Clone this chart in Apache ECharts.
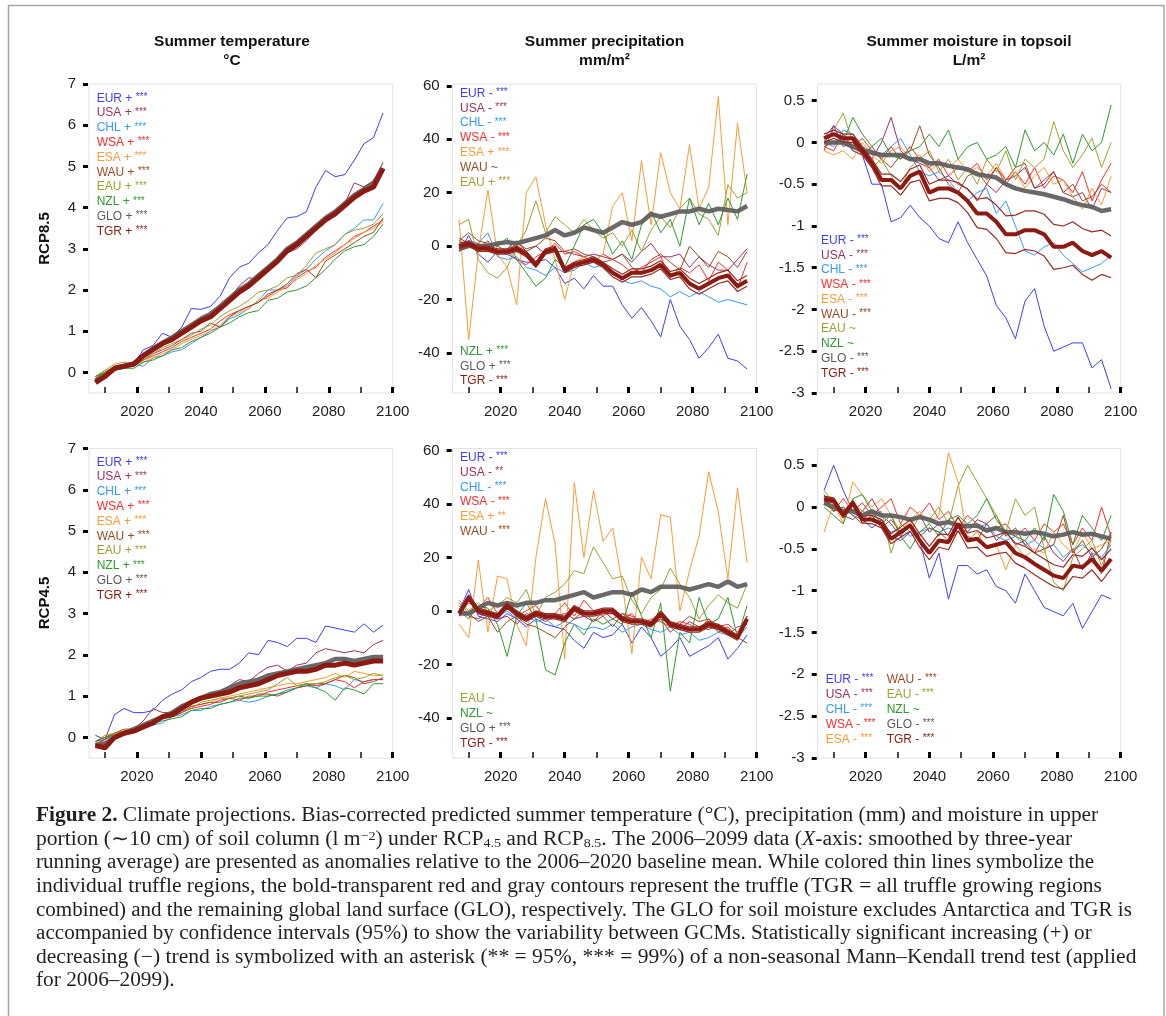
<!DOCTYPE html>
<html>
<head>
<meta charset="utf-8">
<script src="https://cdn.jsdelivr.net/npm/echarts@6/dist/echarts.min.js"></script>
<style>
  html, body { margin: 0; padding: 0; background: #fff; }
  #chart { width: 1166px; height: 1016px; }
</style>
</head>
<body>
<div id="chart"></div>
<script>
var YEARS = [2007,2010,2013,2016,2019,2022,2025,2028,2031,2034,2037,2040,2043,2046,2049,2052,2055,2058,2061,2064,2067,2070,2073,2076,2079,2082,2085,2088,2091,2094,2097];
var X_MINOR = [2010,2030,2050,2070,2090];
var X_MAJOR = [2020,2040,2060,2080,2100];
var TICKS_T = [0,1,2,3,4,5,6,7];
var TICKS_P = [-40,-20,0,20,40,60];
var TICKS_M = [-3,-2.5,-2,-1.5,-1,-0.5,0,0.5];
var REGIONS = ['EUR','USA','CHL','WSA','ESA','WAU','EAU','NZL'];
var TITLES = [['Summer temperature','°C'],['Summer precipitation','mm/m²'],['Summer moisture in topsoil','L/m²']];
var ROWS = ['RCP8.5','RCP4.5'];

// summer temperature, RCP8.5
var T85_EUR = [-0.2,-0.05,0.1,0.2,0.2,0.55,0.65,0.95,0.85,1.1,1.55,1.53,1.6,1.85,2.3,2.55,2.65,2.9,3.1,3.45,3.75,3.78,3.9,4.5,4.9,4.75,4.8,5.15,5.55,5.7,6.3];
var T85_USA = [-0.2,-0.05,0.1,0.2,0.15,0.4,0.55,0.65,0.8,0.9,1.1,1.2,1.35,1.5,1.8,2.1,2.3,2.25,2.45,2.7,2.9,3.0,3.2,3.45,3.65,3.85,4.1,4.6,4.5,4.65,5.1];
var T85_CHL = [-0.1,0.0,0.05,0.15,0.2,0.15,0.35,0.4,0.5,0.55,0.7,0.85,1.0,1.1,1.3,1.4,1.55,1.75,2.0,2.0,2.1,2.35,2.5,2.75,2.95,3.1,3.35,3.5,3.7,3.7,4.1];
var T85_WSA = [-0.15,0.0,0.1,0.2,0.15,0.3,0.4,0.5,0.6,0.75,0.85,0.95,1.05,1.25,1.4,1.5,1.6,1.7,1.85,2.0,2.05,2.3,2.45,2.55,2.8,2.95,3.1,3.3,3.4,3.55,3.7];
var T85_ESA = [-0.1,0.05,0.1,0.2,0.2,0.25,0.35,0.45,0.55,0.7,0.8,0.9,1.0,1.15,1.35,1.45,1.55,1.75,1.8,1.95,2.1,2.25,2.4,2.6,2.75,2.9,3.1,3.25,3.4,3.5,3.65];
var T85_WAU = [-0.15,0.0,0.15,0.2,0.15,0.3,0.45,0.55,0.65,0.8,0.95,1.0,1.2,1.1,1.35,1.5,1.6,1.7,1.9,2.0,2.15,2.4,2.5,2.3,2.7,2.85,3.0,3.15,3.3,3.4,3.75];
var T85_EAU = [-0.1,0.05,0.2,0.25,0.2,0.3,0.45,0.6,0.7,0.8,0.9,1.05,1.15,1.35,1.5,1.6,1.75,1.95,2.0,2.1,2.3,2.35,2.6,2.9,3.0,3.1,3.35,3.45,3.5,3.6,3.85];
var T85_NZL = [-0.1,0.0,0.05,0.1,0.1,0.25,0.3,0.4,0.55,0.6,0.75,0.85,0.95,1.1,1.2,1.35,1.45,1.5,1.75,1.8,1.95,2.0,2.1,2.3,2.5,2.75,2.95,3.05,3.1,3.3,3.6];
var T85_GLO = [-0.2,-0.08,0.1,0.15,0.22,0.42,0.58,0.72,0.85,1.0,1.15,1.3,1.42,1.6,1.8,2.0,2.15,2.35,2.55,2.75,3.0,3.15,3.35,3.55,3.75,3.9,4.1,4.3,4.45,4.6,4.95];
var T85_TGR = [-0.25,-0.1,0.1,0.15,0.2,0.4,0.55,0.7,0.8,0.95,1.1,1.25,1.35,1.55,1.75,1.95,2.1,2.3,2.5,2.7,2.95,3.1,3.3,3.5,3.7,3.85,4.05,4.25,4.4,4.5,4.95];

// summer temperature, RCP4.5
var T45_EUR = [0.05,-0.05,0.55,0.7,0.6,0.6,0.65,0.9,1.05,1.15,1.35,1.45,1.6,1.65,1.65,1.8,2.05,2.0,2.35,2.3,2.2,2.4,2.4,2.3,2.7,2.65,2.6,2.55,2.75,2.55,2.72];
var T45_USA = [-0.2,-0.05,0.1,0.15,0.2,0.4,0.7,0.6,0.6,0.75,0.85,0.95,1.05,1.1,1.25,1.4,1.35,1.55,1.7,1.75,1.6,1.75,1.8,2.05,2.15,2.1,2.05,2.1,2.05,2.25,2.35];
var T45_CHL = [-0.1,-0.05,0.05,0.15,0.2,0.25,0.3,0.35,0.5,0.55,0.65,0.65,0.75,0.8,0.85,0.9,0.85,0.9,1.0,1.05,1.15,1.2,1.25,1.2,1.3,1.25,1.15,1.4,1.35,1.4,1.4];
var T45_WSA = [-0.15,-0.05,0.1,0.15,0.2,0.3,0.35,0.45,0.5,0.6,0.7,0.75,0.8,0.9,0.95,0.9,1.0,1.0,1.1,1.15,1.2,1.25,1.3,1.25,1.3,1.4,1.35,1.2,1.35,1.4,1.4];
var T45_ESA = [-0.1,0.0,0.1,0.15,0.2,0.3,0.4,0.45,0.55,0.6,0.75,0.8,0.85,0.95,1.0,1.05,1.1,1.15,1.2,1.25,1.3,1.3,1.35,1.4,1.45,1.55,1.45,1.6,1.55,1.5,1.5];
var T45_WAU = [-0.1,0.0,0.1,0.2,0.2,0.3,0.35,0.5,0.5,0.6,0.75,0.8,0.85,0.85,0.95,1.0,0.95,1.05,1.05,1.0,1.1,1.2,1.25,1.3,1.3,1.4,1.5,1.45,1.3,1.35,1.45];
var T45_EAU = [-0.1,0.05,0.1,0.15,0.2,0.3,0.4,0.45,0.55,0.65,0.7,0.85,0.9,0.95,0.95,1.0,1.05,1.1,1.15,1.3,1.45,1.25,1.3,1.3,1.35,1.45,1.5,1.4,1.45,1.55,1.5];
var T45_NZL = [-0.1,0.0,0.05,0.15,0.15,0.25,0.35,0.4,0.45,0.5,0.65,0.7,0.7,0.8,0.85,0.95,0.95,1.0,1.0,1.05,1.1,1.2,1.3,1.2,1.1,0.9,1.2,1.15,1.05,1.3,1.3];
var T45_GLO = [-0.2,-0.15,0.0,0.1,0.2,0.3,0.4,0.5,0.6,0.75,0.85,0.95,1.05,1.1,1.2,1.3,1.35,1.4,1.5,1.55,1.6,1.65,1.7,1.75,1.8,1.9,1.9,1.85,1.9,1.95,1.95];
var T45_TGR = [-0.2,-0.25,0.0,0.1,0.15,0.25,0.35,0.5,0.55,0.7,0.85,0.95,1.0,1.05,1.1,1.2,1.25,1.3,1.4,1.5,1.55,1.6,1.6,1.65,1.75,1.75,1.8,1.75,1.8,1.85,1.85];

// summer precipitation, RCP8.5
var P85_EUR = [-2,4,-3,-6,-2,-3,-5,-6,-6,-5,-8,-14,-12,-16,-11,-15,-15,-22,-27,-23,-28,-34,-20,-30,-35,-42,-38,-33,-42,-43,-46];
var P85_USA = [3,1,-1,2,-3,-1,2,-2,0,-3,-2,-2,-3,-4,-3,-4,-5,-3,-6,-2,1,-4,-4,-3,-8,-4,-7,-9,-9,-5,-1];
var P85_CHL = [0,2,1,5,-4,-5,-4,-8,-9,-11,-8,-10,-9,-6,-8,-7,-10,-13,-14,-13,-15,-16,-19,-17,-19,-17,-19,-21,-20,-21,-22];
var P85_WSA = [-2,0,1,-1,-3,-2,-5,-7,-4,-2,1,-3,-2,-4,-6,-3,-5,-7,-10,-8,-6,-4,-12,-8,-10,-7,-13,-6,-9,-16,-6];
var P85_ESA = [10,-35,-2,21,-3,-8,-22,20,26,8,-5,-20,-6,-4,-6,-3,15,20,2,32,8,35,20,14,38,14,22,56,8,46,20];
var P85_WAU = [2,5,2,1,0,-2,1,-1,0,3,2,-2,-1,-3,-4,-6,-5,-3,-8,-10,-5,-3,-6,-9,0,-4,-8,-2,-4,-8,-2];
var P85_EAU = [8,10,-5,-10,-12,-8,0,6,17,5,11,8,5,10,6,3,5,0,6,-2,6,11,7,14,18,12,10,4,23,18,20];
var P85_NZL = [2,0,-2,1,0,3,-5,-10,-15,-12,-5,-8,0,8,10,5,-3,2,-5,8,13,5,10,0,18,8,16,8,18,10,27];
var P85_GLO = [-1,0,0,0,1,1.5,1,2,3,4,6,4,5,7,6,5,7,9,8,9,12,11,12,13,13,14,13,14,13.5,13,15];
var P85_TGR = [0,1,-1,-1,-2,-2,-1,-3,-7,-2,-1,-9,-7,-6,-5,-7,-10,-12,-10,-10,-9,-7,-11,-10,-14,-16,-14,-12,-11,-15,-13];
var P85_TGR_HI = [1,2,0,0,-1,-1,0,-2,-6,-1,0,-8,-6,-5,-4,-6,-8.5,-10.5,-8.5,-8.5,-7.5,-5.5,-9.5,-8.5,-12,-14,-12,-10,-9,-13,-11];
var P85_TGR_LO = [-1,0,-2,-2,-3,-3,-2,-4,-8,-3,-2,-10,-8,-7,-6,-8,-11.5,-13.5,-11.5,-11.5,-10.5,-8.5,-12.5,-11.5,-16,-18,-16,-14,-13,-17,-15];

// summer precipitation, RCP4.5
var P45_EUR = [0,8,-2,-3,-4,-1,-3,-6,-3,-5,-6,-7,-11,-14,-8,-10,-9,-5,-12,-6,-10,-17,-14,-10,-17,-15,-13,-10,-18,-14,-9];
var P45_USA = [2,-2,-3,0,-3,-2,-5,-1,-2,-4,-2,-1,-3,-2,-4,0,-3,-1,-2,-4,-6,-3,-5,-7,-4,-6,-7,-5,-9,-6,-5];
var P45_CHL = [0,4,-1,-2,-2,0,-3,-2,-4,-3,-6,-4,-5,-7,-6,-7,-5,-8,-6,-5,-7,-8,-6,-9,-8,-11,-10,-8,-9,-10,-6];
var P45_WSA = [-1,3,1,5,-1,2,-2,0,2,-3,-1,3,-2,4,0,-2,1,-3,-1,-5,-3,-4,-6,-4,-5,-7,-3,-6,-5,-8,-2];
var P45_ESA = [-5,-10,19,-8,13,12,-5,-13,20,42,25,-18,48,20,45,26,31,10,-16,20,12,36,35,0,15,28,52,37,12,46,18];
var P45_WAU = [3,-1,-4,-2,-8,-4,-2,-5,-6,-8,-10,-6,-3,0,-4,-2,-6,-1,-3,-4,-5,-3,-8,-5,-2,-4,-3,-8,-6,-10,-12];
var P45_EAU = [4,0,3,0,2,5,3,8,-2,5,7,10,15,14,24,18,12,13,4,-1,5,8,16,10,5,-3,2,6,3,1,10];
var P45_NZL = [0,-3,2,1,-5,-17,-2,3,-3,-22,-24,-12,-5,-9,-3,-5,-3,-5,7,-2,-10,3,-30,-8,-12,5,-5,-3,5,-10,2];
var P45_GLO = [-1,-1,1,3,2,3,2,3,3,4,4,5,6,7,5,6,7,7,6,8,7,9,9,9,8,9,10,9,11,9,10];
var P45_TGR = [-1,5,0,-1,-2,2,-1,-3,-1,-2,-2,-3,1,-1,-1,0,0,-3,-4,-4,-5,-1,-5,-6,-7,-7,-5,-6,-8,-10,-3];
var P45_TGR_HI = [0,6,1,0,-1,3,0,-2,0,-1,-1,-2,2,0,0,1,1,-2,-3,-3,-4,0,-4,-5,-6,-6,-4,-5,-7,-9,-2];
var P45_TGR_LO = [-2,4,-1,-2,-3,1,-2,-4,-2,-3,-3,-4,0,-2,-2,-1,-1,-4,-5,-5,-6,-2,-6,-7,-8,-8,-6,-7,-9,-11,-4];

// summer moisture in topsoil, RCP8.5
var M85_EUR = [0.05,0.2,0.1,-0.1,-0.15,-0.5,-0.5,-0.95,-0.9,-0.75,-0.9,-1.0,-1.15,-1.2,-0.95,-1.2,-1.4,-1.6,-1.95,-2.1,-2.35,-1.9,-1.75,-2.2,-2.5,-2.45,-2.4,-2.4,-2.7,-2.6,-2.95];
var M85_USA = [-0.1,0.2,-0.05,0.0,-0.1,-0.2,0.0,0.3,-0.1,-0.2,-0.25,-0.3,-0.45,-0.4,-0.5,-0.55,-0.7,-0.5,-0.6,-0.45,-0.4,-0.3,-0.55,-0.5,-0.35,-0.6,-0.65,-0.6,-0.8,-0.55,-0.6];
var M85_CHL = [0.0,-0.05,0.15,0.1,-0.05,-0.1,-0.15,-0.05,0.05,-0.15,-0.35,-0.4,-0.35,-0.45,-0.6,-0.7,-0.6,-0.55,-0.85,-0.7,-1.0,-1.3,-1.35,-1.25,-1.2,-1.35,-1.45,-1.55,-1.5,-1.45,-1.35];
var M85_WSA = [-0.05,-0.1,0.1,-0.05,0.05,-0.1,-0.2,-0.05,-0.2,-0.05,-0.2,-0.3,-0.2,-0.4,-0.3,-0.35,-0.25,-0.45,-0.3,-0.5,-0.35,-0.5,-0.3,-0.55,-0.4,-0.45,-0.6,-0.35,-0.7,-0.45,-0.25];
var M85_ESA = [-0.1,-0.15,-0.1,-0.2,0.0,-0.15,-0.25,-0.1,-0.05,-0.2,-0.15,-0.35,-0.25,-0.3,-0.2,-0.35,-0.3,-0.4,-0.25,-0.45,-0.35,-0.55,-0.4,-0.3,-0.5,-0.45,-0.65,-0.8,-0.55,-0.75,-0.4];
var M85_WAU = [-0.05,0.0,0.05,-0.1,-0.15,-0.05,-0.2,-0.3,-0.15,-0.1,0.2,-0.15,-0.3,-0.5,-0.6,-0.4,-0.35,-0.5,-0.3,-0.45,-0.3,-0.25,-0.55,-0.45,-0.35,-0.6,-0.5,-0.7,-0.65,-0.5,-0.6];
var M85_EAU = [0.0,0.15,0.35,0.0,-0.1,-0.3,-0.2,-0.4,-0.55,-0.3,-0.2,-0.1,-0.35,-0.2,-0.45,-0.3,-0.5,-0.2,-0.35,-0.1,-0.45,-0.2,-0.3,-0.2,0.25,-0.1,-0.3,-0.15,0.05,-0.3,0.0];
var M85_NZL = [0.05,0.1,0.0,0.3,0.1,-0.05,0.05,-0.15,-0.2,-0.1,-0.05,0.1,-0.05,0.15,-0.2,-0.05,0.0,-0.2,-0.15,-0.05,-0.3,0.15,-0.1,0.0,-0.15,0.1,-0.25,0.1,-0.1,0.0,0.45];
var M85_GLO = [0.0,0.0,0.0,-0.05,-0.1,-0.12,-0.15,-0.15,-0.15,-0.2,-0.2,-0.25,-0.25,-0.28,-0.3,-0.32,-0.38,-0.4,-0.42,-0.5,-0.55,-0.58,-0.6,-0.62,-0.65,-0.68,-0.72,-0.75,-0.77,-0.82,-0.8];
var M85_TGR = [0.05,0.1,0.05,0.05,-0.1,-0.25,-0.45,-0.45,-0.55,-0.4,-0.35,-0.6,-0.55,-0.55,-0.6,-0.7,-0.85,-0.85,-0.95,-1.1,-1.1,-1.05,-1.05,-1.1,-1.25,-1.25,-1.2,-1.3,-1.35,-1.3,-1.38];
var M85_TGR_HI = [0.1,0.15,0.1,0.1,-0.05,-0.2,-0.38,-0.38,-0.47,-0.32,-0.27,-0.5,-0.45,-0.45,-0.48,-0.56,-0.68,-0.66,-0.75,-0.88,-0.87,-0.82,-0.82,-0.86,-0.98,-1.0,-0.95,-1.03,-1.07,-1.05,-1.12];
var M85_TGR_LO = [0.0,0.05,0.0,0.0,-0.15,-0.3,-0.52,-0.52,-0.63,-0.48,-0.45,-0.7,-0.67,-0.67,-0.72,-0.84,-1.02,-1.04,-1.15,-1.32,-1.33,-1.28,-1.3,-1.36,-1.52,-1.5,-1.47,-1.58,-1.65,-1.58,-1.62];

// summer moisture in topsoil, RCP4.5
var M45_EUR = [0.2,0.5,0.2,-0.05,-0.15,-0.25,-0.15,-0.35,-0.4,-0.3,-0.4,-0.85,-0.55,-1.1,-0.7,-0.7,-0.8,-0.75,-0.95,-1.0,-1.15,-0.8,-1.0,-1.2,-1.25,-1.3,-1.15,-1.45,-1.25,-1.05,-1.1];
var M45_USA = [0.1,0.05,-0.1,-0.15,-0.05,0.1,-0.1,-0.2,-0.35,-0.2,-0.1,-0.3,-0.2,-0.35,-0.25,-0.3,-0.15,-0.2,-0.4,-0.3,-0.45,-0.4,-0.55,-0.35,-0.55,-0.65,-0.5,-0.75,-0.55,-0.8,-0.3];
var M45_CHL = [0.1,-0.05,0.0,-0.1,-0.15,-0.05,-0.2,-0.3,-0.25,-0.35,-0.3,-0.25,-0.3,-0.25,-0.3,-0.2,-0.25,-0.2,-0.35,-0.4,-0.35,-0.45,-0.4,-0.5,-0.45,-0.6,-0.5,-0.45,-0.55,-0.6,-0.45];
var M45_WSA = [0.05,-0.05,0.1,-0.05,0.05,-0.1,0.0,0.1,-0.2,0.0,-0.1,0.05,-0.15,-0.05,-0.25,-0.1,-0.2,-0.3,-0.25,-0.2,-0.35,-0.25,-0.4,-0.2,-0.3,-0.2,-0.45,-0.25,-0.4,0.0,-0.35];
var M45_ESA = [-0.3,0.05,-0.2,0.3,0.15,0.0,0.1,-0.1,-0.3,-0.15,-0.05,-0.2,-0.1,0.65,0.3,-0.4,-0.3,-0.5,-0.45,-0.75,-0.45,-0.6,-0.5,-0.55,-0.3,-0.45,-0.55,-0.3,-0.5,-0.45,-0.4];
var M45_WAU = [0.15,-0.05,0.0,-0.1,-0.2,-0.1,-0.25,-0.15,-0.3,-0.2,-0.35,-0.25,-0.3,-0.4,-0.3,-0.35,-0.4,-0.2,-0.1,-0.35,-0.25,-0.45,-0.55,-0.5,-0.45,-0.1,-0.55,-0.4,-0.6,-0.5,-0.3];
var M45_EAU = [0.2,0.05,-0.05,0.05,-0.05,-0.1,-0.05,-0.55,-0.2,-0.3,-0.1,-0.15,0.0,-0.2,0.25,0.5,0.3,0.1,-0.1,-0.3,0.1,-0.1,0.0,-0.5,-0.9,-1.0,-0.6,-0.5,-0.4,-0.7,-0.4];
var M45_NZL = [0.0,-0.1,-0.2,0.1,0.15,-0.05,-0.2,-0.1,-0.35,-0.5,-0.3,-0.2,-0.35,-0.15,-0.1,-0.2,-0.1,0.1,-0.15,-0.3,-0.35,-0.4,-0.25,-0.4,0.15,-0.05,-0.45,-0.1,-0.25,-0.4,-0.1];
var M45_GLO = [0.05,0.0,-0.05,-0.05,-0.1,-0.05,-0.1,-0.1,-0.12,-0.15,-0.12,-0.15,-0.2,-0.18,-0.22,-0.23,-0.22,-0.28,-0.25,-0.3,-0.3,-0.32,-0.3,-0.32,-0.35,-0.33,-0.3,-0.33,-0.32,-0.35,-0.38];
var M45_TGR = [0.1,0.08,-0.1,0.05,-0.15,-0.15,-0.2,-0.38,-0.3,-0.22,-0.4,-0.55,-0.4,-0.42,-0.2,-0.4,-0.38,-0.48,-0.45,-0.42,-0.55,-0.6,-0.68,-0.75,-0.82,-0.85,-0.7,-0.72,-0.62,-0.76,-0.62];
var M45_TGR_HI = [0.13,0.11,-0.07,0.08,-0.11,-0.1,-0.15,-0.32,-0.24,-0.15,-0.32,-0.47,-0.32,-0.33,-0.12,-0.31,-0.28,-0.37,-0.34,-0.3,-0.43,-0.47,-0.55,-0.62,-0.69,-0.72,-0.57,-0.59,-0.49,-0.63,-0.5];
var M45_TGR_LO = [0.07,0.05,-0.13,0.02,-0.19,-0.2,-0.25,-0.44,-0.36,-0.29,-0.48,-0.63,-0.48,-0.51,-0.28,-0.49,-0.48,-0.59,-0.56,-0.54,-0.67,-0.73,-0.81,-0.88,-0.95,-0.98,-0.83,-0.85,-0.75,-0.89,-0.74];

// legend labels (region, trend sign, significance)
var LEG_T85 = [['EUR','+','***'],['USA','+','***'],['CHL','+','***'],['WSA','+','***'],['ESA','+','***'],['WAU','+','***'],['EAU','+','***'],['NZL','+','***'],['GLO','+','***'],['TGR','+','***']];
var LEG_P85 = [['EUR','-','***'],['USA','-','***'],['CHL','-','***'],['WSA','-','***'],['ESA','+','***'],['WAU','~',''],['EAU','+','***'],['NZL','+','***'],['GLO','+','***'],['TGR','-','***']];
var LEG_M85 = [['EUR','-','***'],['USA','-','***'],['CHL','-','***'],['WSA','-','***'],['ESA','-','***'],['WAU','-','***'],['EAU','~',''],['NZL','~',''],['GLO','-','***'],['TGR','-','***']];
var LEG_T45 = [['EUR','+','***'],['USA','+','***'],['CHL','+','***'],['WSA','+','***'],['ESA','+','***'],['WAU','+','***'],['EAU','+','***'],['NZL','+','***'],['GLO','+','***'],['TGR','+','***']];
var LEG_P45 = [['EUR','-','***'],['USA','-','**'],['CHL','-','***'],['WSA','-','***'],['ESA','+','**'],['WAU','-','***'],['EAU','~',''],['NZL','~',''],['GLO','+','***'],['TGR','-','***']];
var LEG_M45 = [['EUR','-','***'],['USA','-','***'],['CHL','-','***'],['WSA','-','***'],['ESA','-','***'],['WAU','-','***'],['EAU','-','***'],['NZL','~',''],['GLO','-','***'],['TGR','-','***']];

var CAPTION = [
  '{b|Figure 2.} Climate projections. Bias-corrected predicted summer temperature (°C), precipitation (mm) and moisture in upper',
  'portion (∼10 cm) of soil column (l m{sup|−2}) under RCP{sub|4.5} and RCP{sub|8.5}. The 2006–2099 data ({i|X}-axis: smoothed by three-year',
  'running average) are presented as anomalies relative to the 2006–2020 baseline mean. While colored thin lines symbolize the',
  'individual truffle regions, the bold-transparent red and gray contours represent the truffle (TGR = all truffle growing regions',
  'combined) and the remaining global land surface (GLO), respectively. The GLO for soil moisture excludes Antarctica and TGR is',
  'accompanied by confidence intervals (95%) to show the variability between GCMs. Statistically significant increasing (+) or',
  'decreasing (−) trend is symbolized with an asterisk (** = 95%, *** = 99%) of a non-seasonal Mann–Kendall trend test (applied',
  'for 2006–2099).'
];
// horizontal stretch per caption line, to match the wider typeface of the original
var CAPTION_SCALE = [1.068, 1.079, 1.055, 1.072, 1.052, 1.057, 1.078, 1.066];

var COLORS = {EUR:'#3d3dff', USA:'#9c2f5c', CHL:'#3399ff', WSA:'#ff2b2b', ESA:'#ff9a33', WAU:'#9a4a22', EAU:'#a0a030', NZL:'#2f9a2f', GLO:'#5a5a5a', TGR:'#8c1a10'};
var SANS = '"Liberation Sans", Arial, Helvetica, sans-serif';
var SERIF = '"Liberation Serif", "Times New Roman", serif';

var COLS = [{left: 89, width: 303.7}, {left: 452.7, width: 304}, {left: 817.7, width: 303}];
var ROWPOS = [{top: 84, height: 309}, {top: 448.5, height: 309.5}];
var YDEF = [{min: -0.5, max: 7, ticks: TICKS_T}, {min: -55, max: 60.7, ticks: TICKS_P}, {min: -3, max: 0.7, ticks: TICKS_M}];

var panels = [
  {row:0, col:0, d:{EUR:T85_EUR,USA:T85_USA,CHL:T85_CHL,WSA:T85_WSA,ESA:T85_ESA,WAU:T85_WAU,EAU:T85_EAU,NZL:T85_NZL}, glo:T85_GLO, tgr:T85_TGR,
   legend:[{x:96.7, y:98.3, step:14.8, items:LEG_T85}]},
  {row:0, col:1, d:{EUR:P85_EUR,USA:P85_USA,CHL:P85_CHL,WSA:P85_WSA,ESA:P85_ESA,WAU:P85_WAU,EAU:P85_EAU,NZL:P85_NZL}, glo:P85_GLO, tgr:P85_TGR, hi:P85_TGR_HI, lo:P85_TGR_LO,
   legend:[{x:460, y:93.3, step:14.9, items:LEG_P85.slice(0,7)}, {x:460, y:351.7, step:14.7, items:LEG_P85.slice(7)}]},
  {row:0, col:2, d:{EUR:M85_EUR,USA:M85_USA,CHL:M85_CHL,WSA:M85_WSA,ESA:M85_ESA,WAU:M85_WAU,EAU:M85_EAU,NZL:M85_NZL}, glo:M85_GLO, tgr:M85_TGR, hi:M85_TGR_HI, lo:M85_TGR_LO,
   legend:[{x:821, y:240.7, step:14.73, items:LEG_M85}]},
  {row:1, col:0, d:{EUR:T45_EUR,USA:T45_USA,CHL:T45_CHL,WSA:T45_WSA,ESA:T45_ESA,WAU:T45_WAU,EAU:T45_EAU,NZL:T45_NZL}, glo:T45_GLO, tgr:T45_TGR,
   legend:[{x:96.7, y:462.3, step:14.8, items:LEG_T45}]},
  {row:1, col:1, d:{EUR:P45_EUR,USA:P45_USA,CHL:P45_CHL,WSA:P45_WSA,ESA:P45_ESA,WAU:P45_WAU,EAU:P45_EAU,NZL:P45_NZL}, glo:P45_GLO, tgr:P45_TGR, hi:P45_TGR_HI, lo:P45_TGR_LO,
   legend:[{x:460, y:457.7, step:14.8, items:LEG_P45.slice(0,6)}, {x:460, y:698.3, step:15, items:LEG_P45.slice(6)}]},
  {row:1, col:2, d:{EUR:M45_EUR,USA:M45_USA,CHL:M45_CHL,WSA:M45_WSA,ESA:M45_ESA,WAU:M45_WAU,EAU:M45_EAU,NZL:M45_NZL}, glo:M45_GLO, tgr:M45_TGR, hi:M45_TGR_HI, lo:M45_TGR_LO,
   legend:[{x:825.7, y:679.3, step:15, items:LEG_M45.slice(0,5)}, {x:886.7, y:679.3, step:15, items:LEG_M45.slice(5)}]}
];

function pairs(arr) {
  return YEARS.map(function (yr, k) { return [yr, arr[k]]; });
}

var grids = [], xAxes = [], yAxes = [], series = [], graphics = [];

panels.forEach(function (p, i) {
  var c = COLS[p.col], r = ROWPOS[p.row], yd = YDEF[p.col];
  grids.push({left: c.left, width: c.width, top: r.top, height: r.height, show: true, borderColor: '#e2e2e2', borderWidth: 1});
  xAxes.push({
    type: 'value', gridIndex: i, min: 2005, max: 2100, position: 'bottom',
    axisLine: {show: false, onZero: false}, splitLine: {show: false},
    axisTick: {show: true, inside: true, length: 6, customValues: X_MINOR, lineStyle: {color: '#111', width: 1.5}},
    axisLabel: {show: false}
  });
  xAxes.push({
    type: 'value', gridIndex: i, min: 2005, max: 2100, position: 'bottom',
    axisLine: {show: false, onZero: false}, splitLine: {show: false},
    axisTick: {show: true, inside: true, length: 6, customValues: X_MAJOR, lineStyle: {color: '#000', width: 3}},
    axisLabel: {customValues: X_MAJOR, fontSize: 15, color: '#222', margin: 11, fontFamily: SANS,
      formatter: function (v) { return String(v); }}
  });
  yAxes.push({
    type: 'value', gridIndex: i, min: yd.min, max: yd.max, position: 'left', offset: 1,
    axisLine: {show: false, onZero: false}, splitLine: {show: false},
    axisTick: {show: true, length: 5, customValues: yd.ticks, lineStyle: {color: '#000', width: 3}},
    axisLabel: {customValues: yd.ticks, fontSize: 15, color: '#222', margin: 12, fontFamily: SANS}
  });

  var xi = 2 * i + 1;
  REGIONS.forEach(function (reg) {
    series.push({type: 'line', xAxisIndex: xi, yAxisIndex: i, data: pairs(p.d[reg]), showSymbol: false, silent: true,
      lineStyle: {color: COLORS[reg], width: 1}, z: 2});
  });
  series.push({type: 'line', xAxisIndex: xi, yAxisIndex: i, data: pairs(p.glo), showSymbol: false, silent: true,
    lineStyle: {color: '#5c5c5c', width: 4.5, opacity: 0.92}, z: 3});
  if (p.hi) {
    [p.hi, p.lo].forEach(function (arr) {
      series.push({type: 'line', xAxisIndex: xi, yAxisIndex: i, data: pairs(arr), showSymbol: false, silent: true,
        lineStyle: {color: '#9a2a22', width: 1.2}, z: 4});
    });
  }
  series.push({type: 'line', xAxisIndex: xi, yAxisIndex: i, data: pairs(p.tgr), showSymbol: false, silent: true,
    lineStyle: {color: COLORS.TGR, width: p.hi ? 4 : 5}, z: 5});

  p.legend.forEach(function (g) {
    g.items.forEach(function (it, k) {
      graphics.push({type: 'text', x: g.x, y: g.y + k * g.step, silent: true, z: 10,
        style: {
          text: '{n|' + it[0] + ' ' + it[1] + ' }{s|' + it[2] + '}',
          textVerticalAlign: 'middle',
          rich: {
            n: {fontSize: 12, fontFamily: SANS, fill: COLORS[it[0]], color: COLORS[it[0]]},
            s: {fontSize: 10, fontFamily: SANS, fill: COLORS[it[0]], color: COLORS[it[0]], verticalAlign: 'top'}
          }
        }});
    });
  });
});

// column titles
var TITLE_X = [232, 604.5, 969];
TITLES.forEach(function (t, k) {
  t.forEach(function (line, j) {
    graphics.push({type: 'text', x: TITLE_X[k], y: 42 + j * 18.5, silent: true,
      style: {text: line, textAlign: 'center', textVerticalAlign: 'middle', fontSize: 15.5, fontWeight: 'bold', fontFamily: SANS, fill: '#111'}});
  });
});

// row labels
ROWS.forEach(function (name, k) {
  graphics.push({type: 'text', x: 45, y: k ? 603 : 238.5, rotation: Math.PI / 2, silent: true,
    style: {text: name, textAlign: 'center', textVerticalAlign: 'middle', fontSize: 15, fontWeight: 'bold', fontFamily: SANS, fill: '#111'}});
});

// caption
CAPTION.forEach(function (line, k) {
  graphics.push({type: 'text', x: 36, y: 816 + k * 23.6, scaleX: CAPTION_SCALE[k], silent: true,
    style: {
      text: line, textVerticalAlign: 'middle', fontSize: 20, fontFamily: SERIF, fill: '#231f20',
      rich: {
        b: {fontSize: 20, fontFamily: SERIF, fontWeight: 'bold', fill: '#231f20', color: '#231f20'},
        i: {fontSize: 20, fontFamily: SERIF, fontStyle: 'italic', fill: '#231f20', color: '#231f20'},
        sup: {fontSize: 13, fontFamily: SERIF, fill: '#231f20', color: '#231f20', verticalAlign: 'top'},
        sub: {fontSize: 13, fontFamily: SERIF, fill: '#231f20', color: '#231f20', verticalAlign: 'bottom'}
      }
    }});
});

// figure frame
graphics.push({type: 'rect', silent: true, z: 0, shape: {x: 8.5, y: 5.5, width: 1155.5, height: 1040},
  style: {fill: 'none', stroke: '#a6a6a6', lineWidth: 1.5}});

var chart = echarts.init(document.getElementById('chart'), null, {renderer: 'canvas'});
chart.setOption({
  animation: false,
  backgroundColor: '#ffffff',
  grid: grids,
  xAxis: xAxes,
  yAxis: yAxes,
  series: series,
  graphic: graphics
});
</script>
</body>
</html>
